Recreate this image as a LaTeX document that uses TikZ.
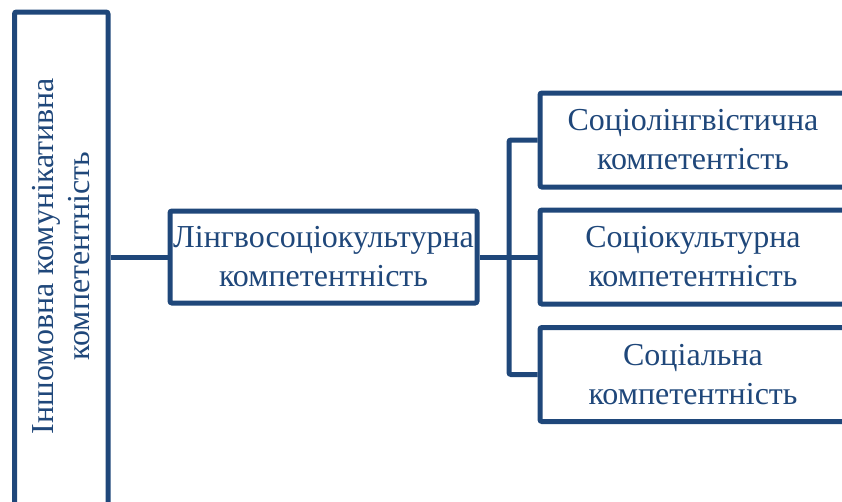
\documentclass[tikz,border=0pt]{standalone}
\usepackage{fontspec}
\setmainfont{Liberation Serif}
\definecolor{navy}{RGB}{31,71,122}
\begin{document}
\begin{tikzpicture}[x=1pt,y=-1pt,
  frame/.style={draw=navy,line width=5pt,rounded corners=2pt,inner sep=0pt},
  label/.style={text=navy,align=center,font=\fontsize{32}{39}\selectfont},
  link/.style={draw=navy,line width=5pt}]
\useasboundingbox (0,0) rectangle (842,501);
\clip (0,0) rectangle (842,501);
% left column frame (runs past the lower edge)
\node[frame,minimum width=93.5pt,minimum height=510pt] (lang) at (61.25,267) {};
\node[label,rotate=90,font=\fontsize{32}{36}\selectfont] (langtext) at (61,256)
  {Іншомовна комунікативна\\компетентність};
% middle
\node[frame,label,minimum width=307pt,minimum height=92pt] (mid) at (323.5,257)
  {Лінгвосоціокультурна\\компетентність};
% right column
\node[frame,label,minimum width=306pt,minimum height=94pt] (r1) at (693,140)
  {Соціолінгвістична\\компетентість};
\node[frame,label,minimum width=306pt,minimum height=94pt] (r2) at (693,257)
  {Соціокультурна\\компетентність};
\node[frame,label,minimum width=306pt,minimum height=94pt] (r3) at (693,374.5)
  {Соціальна\\компетентність};
\coordinate (br) at (509,257);
% connectors
\draw[link] (mid.west -| lang.east) -- (mid.west);
\draw[link] (mid.east) -- (r2.west);
\draw[link,rounded corners=2pt] (r1.west) -| (br) |- (r3.west);
\end{tikzpicture}
\end{document}
